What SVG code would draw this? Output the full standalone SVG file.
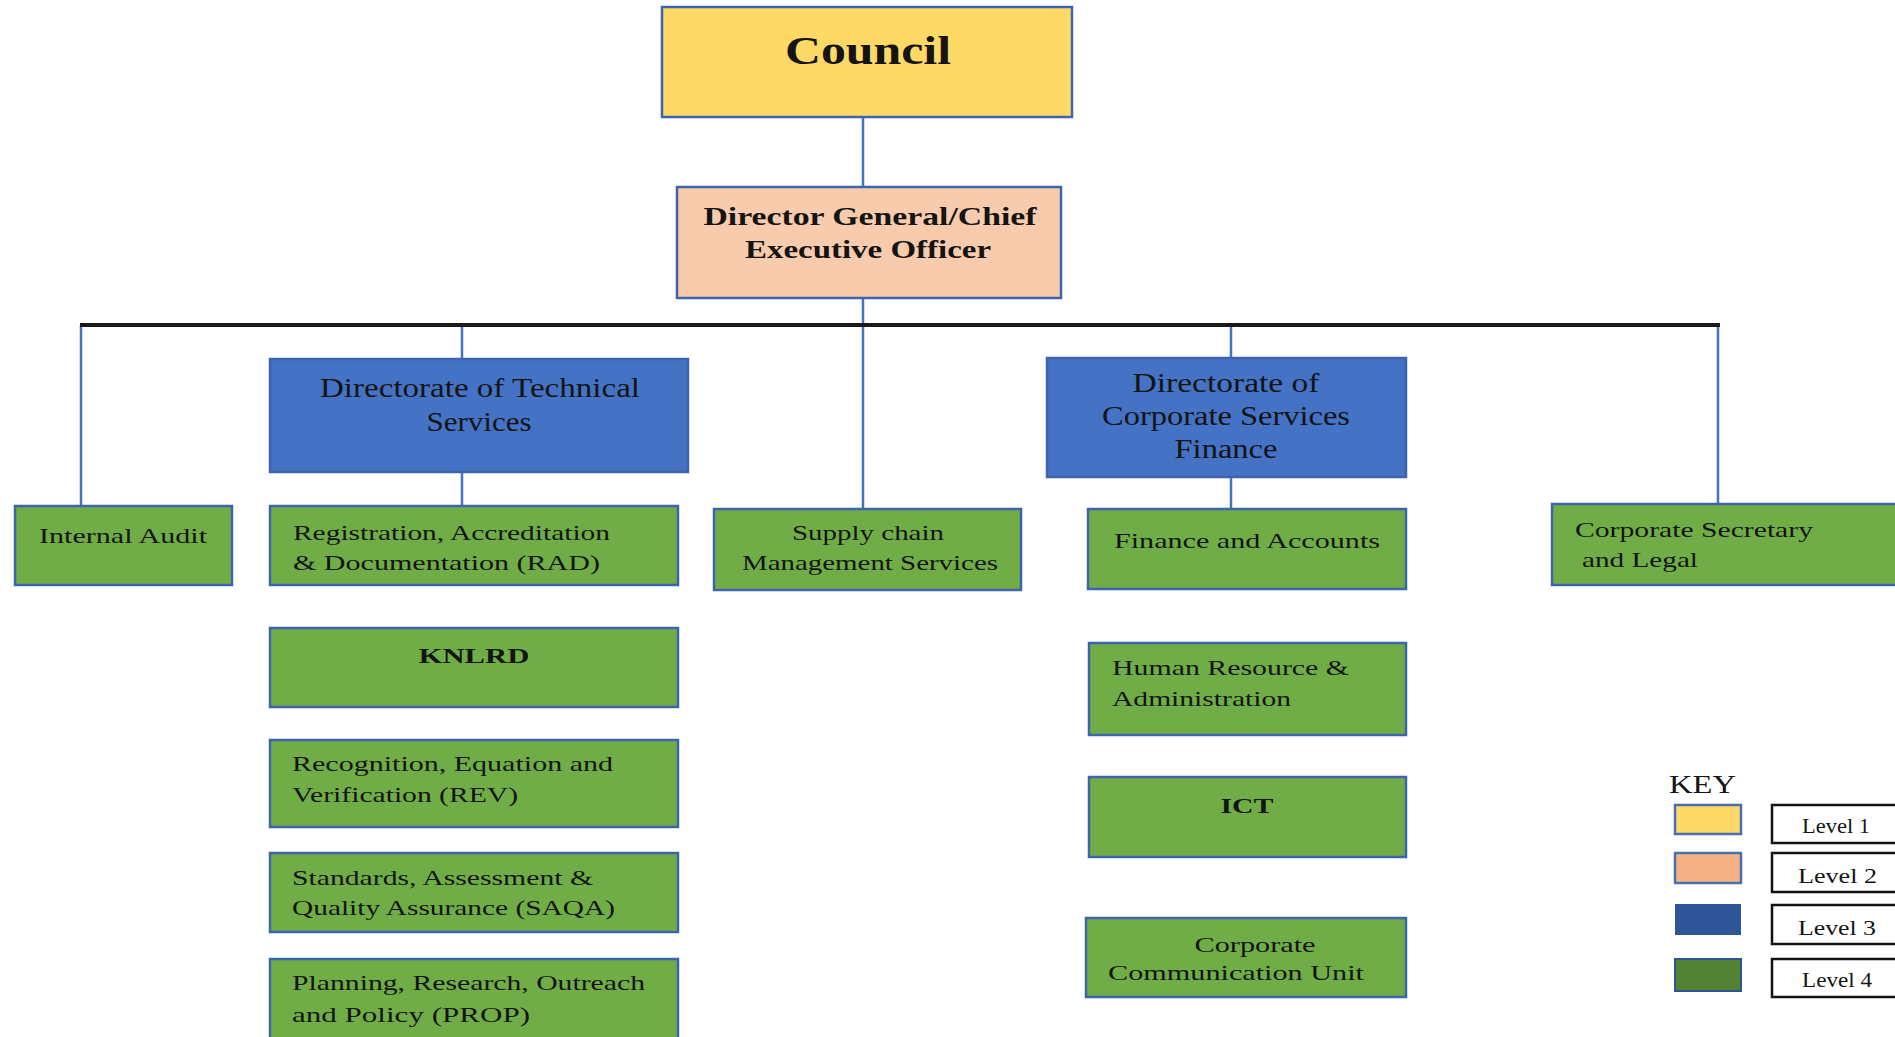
<svg xmlns="http://www.w3.org/2000/svg" width="1895" height="1037" viewBox="0 0 1895 1037">
<style>
.box{stroke:#3e64ad;stroke-width:2.5}
.l1{fill:#ffd966}
.l2{fill:#f8cbad}
.l3{fill:#4472c4}
.l4{fill:#70ad47}
.t{font-family:"Liberation Serif","Times New Roman",serif;fill:#141414}
.g{font-size:22px}
.b3{font-size:27px}
.bold{font-weight:bold}
.c{text-anchor:middle}
.conn{stroke:#4472c4;stroke-width:2.5;fill:none}
.bar{stroke:#1a1a1a;stroke-width:4;fill:none}
.lv{fill:#ffffff;stroke:#111;stroke-width:2.5}
</style>
<rect width="1895" height="1037" fill="#ffffff"/>
<g id="connectors">
<line class="conn" x1="863" y1="117" x2="863" y2="187"/>
<line class="conn" x1="863" y1="298" x2="863" y2="509"/>
<line class="conn" x1="81" y1="325" x2="81" y2="506"/>
<line class="conn" x1="462" y1="325" x2="462" y2="359"/>
<line class="conn" x1="462" y1="472" x2="462" y2="506"/>
<line class="conn" x1="1231" y1="325" x2="1231" y2="358"/>
<line class="conn" x1="1231" y1="477" x2="1231" y2="509"/>
<line class="conn" x1="1718" y1="325" x2="1718" y2="504"/>
<line class="bar" x1="80" y1="325" x2="1720" y2="325"/>
</g>
<g id="council">
<rect class="box l1" x="662" y="7" width="410" height="110"/>
<text class="t bold c" x="868" y="64" font-size="40" textLength="166" lengthAdjust="spacingAndGlyphs">Council</text>
</g>
<g id="dg">
<rect class="box l2" x="677" y="187" width="384" height="111"/>
<text class="t bold c" x="870" y="225" font-size="26" textLength="333" lengthAdjust="spacingAndGlyphs">Director General/Chief</text>
<text class="t bold c" x="868" y="258" font-size="26" textLength="246" lengthAdjust="spacingAndGlyphs">Executive Officer</text>
</g>
<g id="dts">
<rect class="box l3" x="270" y="359" width="418" height="113"/>
<text class="t b3 c" x="480" y="397" textLength="320" lengthAdjust="spacingAndGlyphs">Directorate of  Technical</text>
<text class="t b3 c" x="479" y="431" textLength="105" lengthAdjust="spacingAndGlyphs">Services</text>
</g>
<g id="dcsf">
<rect class="box l3" x="1047" y="358" width="359" height="119"/>
<text class="t b3 c" x="1226" y="392" textLength="187" lengthAdjust="spacingAndGlyphs">Directorate of</text>
<text class="t b3 c" x="1226" y="425" textLength="248" lengthAdjust="spacingAndGlyphs">Corporate Services</text>
<text class="t b3 c" x="1226" y="458" textLength="103" lengthAdjust="spacingAndGlyphs">Finance</text>
</g>
<g id="internal-audit">
<rect class="box l4" x="15" y="506" width="217" height="79"/>
<text class="t g c" x="123" y="543" textLength="168" lengthAdjust="spacingAndGlyphs">Internal Audit</text>
</g>
<g id="rad">
<rect class="box l4" x="270" y="506" width="408" height="79"/>
<text class="t g" x="293" y="540" textLength="317" lengthAdjust="spacingAndGlyphs">Registration, Accreditation</text>
<text class="t g" x="293" y="570" textLength="307" lengthAdjust="spacingAndGlyphs">&amp; Documentation (RAD)</text>
</g>
<g id="supply-chain">
<rect class="box l4" x="714" y="509" width="307" height="81"/>
<text class="t g c" x="868" y="540" textLength="152" lengthAdjust="spacingAndGlyphs">Supply chain</text>
<text class="t g c" x="870" y="570" textLength="256" lengthAdjust="spacingAndGlyphs">Management Services</text>
</g>
<g id="finance-accounts">
<rect class="box l4" x="1088" y="509" width="318" height="80"/>
<text class="t g c" x="1247" y="548" textLength="266" lengthAdjust="spacingAndGlyphs">Finance and Accounts</text>
</g>
<g id="corp-secretary">
<rect class="box l4" x="1552" y="504" width="350" height="81"/>
<text class="t g" x="1575" y="537" textLength="238" lengthAdjust="spacingAndGlyphs">Corporate Secretary</text>
<text class="t g" x="1582" y="567" textLength="116" lengthAdjust="spacingAndGlyphs">and Legal</text>
</g>
<g id="knlrd">
<rect class="box l4" x="270" y="628" width="408" height="79"/>
<text class="t g bold c" x="474" y="663" textLength="111" lengthAdjust="spacingAndGlyphs">KNLRD</text>
</g>
<g id="rev">
<rect class="box l4" x="270" y="740" width="408" height="87"/>
<text class="t g" x="292" y="771" textLength="321" lengthAdjust="spacingAndGlyphs">Recognition, Equation and</text>
<text class="t g" x="292" y="802" textLength="226" lengthAdjust="spacingAndGlyphs">Verification (REV)</text>
</g>
<g id="saqa">
<rect class="box l4" x="270" y="853" width="408" height="79"/>
<text class="t g" x="292" y="885" textLength="301" lengthAdjust="spacingAndGlyphs">Standards, Assessment &amp;</text>
<text class="t g" x="292" y="915" textLength="323" lengthAdjust="spacingAndGlyphs">Quality Assurance (SAQA)</text>
</g>
<g id="prop">
<rect class="box l4" x="270" y="959" width="408" height="84"/>
<text class="t g" x="292" y="990" textLength="353" lengthAdjust="spacingAndGlyphs">Planning, Research, Outreach</text>
<text class="t g" x="292" y="1022" textLength="238" lengthAdjust="spacingAndGlyphs">and Policy (PROP)</text>
</g>
<g id="hr">
<rect class="box l4" x="1089" y="643" width="317" height="92"/>
<text class="t g" x="1112" y="675" textLength="237" lengthAdjust="spacingAndGlyphs">Human Resource &amp;</text>
<text class="t g" x="1112" y="706" textLength="179" lengthAdjust="spacingAndGlyphs">Administration</text>
</g>
<g id="ict">
<rect class="box l4" x="1089" y="777" width="317" height="80"/>
<text class="t g bold c" x="1247" y="813" textLength="53" lengthAdjust="spacingAndGlyphs">ICT</text>
</g>
<g id="corp-comm">
<rect class="box l4" x="1086" y="918" width="320" height="79"/>
<text class="t g c" x="1255" y="952" textLength="121" lengthAdjust="spacingAndGlyphs">Corporate</text>
<text class="t g c" x="1236" y="980" textLength="256" lengthAdjust="spacingAndGlyphs">Communication Unit</text>
</g>
<g id="key">
<text class="t" x="1669" y="793" font-size="26" textLength="67" lengthAdjust="spacingAndGlyphs">KEY</text>
<rect x="1675" y="805" width="66" height="29" fill="#ffd966" stroke="#4a6fb0" stroke-width="2.5"/>
<rect x="1675" y="853" width="66" height="30" fill="#f4b183" stroke="#4a6fb0" stroke-width="2.5"/>
<rect x="1675" y="904" width="66" height="31" fill="#2f5597"/>
<rect x="1675" y="959" width="66" height="32" fill="#548235" stroke="#2f5597" stroke-width="2"/>
<rect class="lv" x="1772" y="805" width="130" height="38"/>
<rect class="lv" x="1772" y="853" width="130" height="39"/>
<rect class="lv" x="1772" y="905" width="130" height="39"/>
<rect class="lv" x="1772" y="959" width="130" height="38"/>
<text class="t" x="1802" y="833" font-size="21" fill="#222a3a" textLength="68" lengthAdjust="spacingAndGlyphs">Level 1</text>
<text class="t" x="1798" y="883" font-size="21" textLength="79" lengthAdjust="spacingAndGlyphs">Level 2</text>
<text class="t" x="1798" y="935" font-size="21" textLength="78" lengthAdjust="spacingAndGlyphs">Level 3</text>
<text class="t" x="1802" y="987" font-size="21" textLength="70" lengthAdjust="spacingAndGlyphs">Level 4</text>
</g>
</svg>
